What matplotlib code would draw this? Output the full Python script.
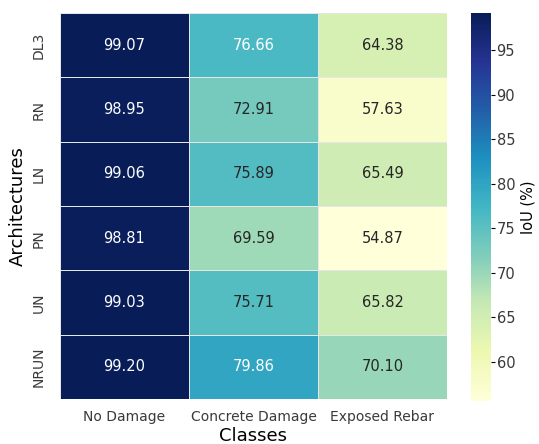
import numpy as np
import matplotlib
matplotlib.use('Agg')
import matplotlib.pyplot as plt
import seaborn as sns

architectures = ['DL3', 'RN', 'LN', 'PN', 'UN', 'NRUN']
classes = ['No Damage', 'Concrete Damage', 'Exposed Rebar']
no_damage = [99.07, 98.95, 99.06, 98.81, 99.03, 99.20]
concrete_damage = [76.66, 72.91, 75.89, 69.59, 75.71, 79.86]
exposed_rebar = [64.38, 57.63, 65.49, 54.87, 65.82, 70.10]

iou = np.array([no_damage, concrete_damage, exposed_rebar]).T

plt.rcParams['font.family'] = ['DejaVu Sans']
fig = plt.figure(figsize=(5.39, 4.44), dpi=100)
ax = fig.add_axes([60 / 539, 45 / 444, 387 / 539, 386 / 444])
cax = fig.add_axes([471 / 539, 43 / 444, 20 / 539, 388 / 444])

sns.heatmap(iou, ax=ax, cbar_ax=cax, cmap='YlGnBu', annot=True, fmt='.2f',
            vmin=55.6, vmax=99.2,
            linewidths=0.7, linecolor='#e6e6e6',
            annot_kws={'fontsize': 10.5},
            xticklabels=classes, yticklabels=architectures,
            cbar_kws={'label': 'IoU (%)'})

ax.tick_params(axis='both', length=0, labelsize=10, labelcolor='#3a3a3a')
ax.tick_params(axis='x', pad=8)
ax.tick_params(axis='y', pad=10)
ax.set_yticklabels(architectures, rotation=90, va='center')
ax.set_xlabel('Classes', fontsize=13, labelpad=2)
ax.set_ylabel('Architectures', fontsize=13, labelpad=4)

cax.set_yticks([60, 65, 70, 75, 80, 85, 90, 95])
cax.tick_params(labelsize=10.5, length=3, pad=1, labelcolor='#3a3a3a')
cax.yaxis.label.set_size(10.5)
for s in cax.spines.values():
    s.set_visible(False)

plt.savefig('out.png', dpi=100)
